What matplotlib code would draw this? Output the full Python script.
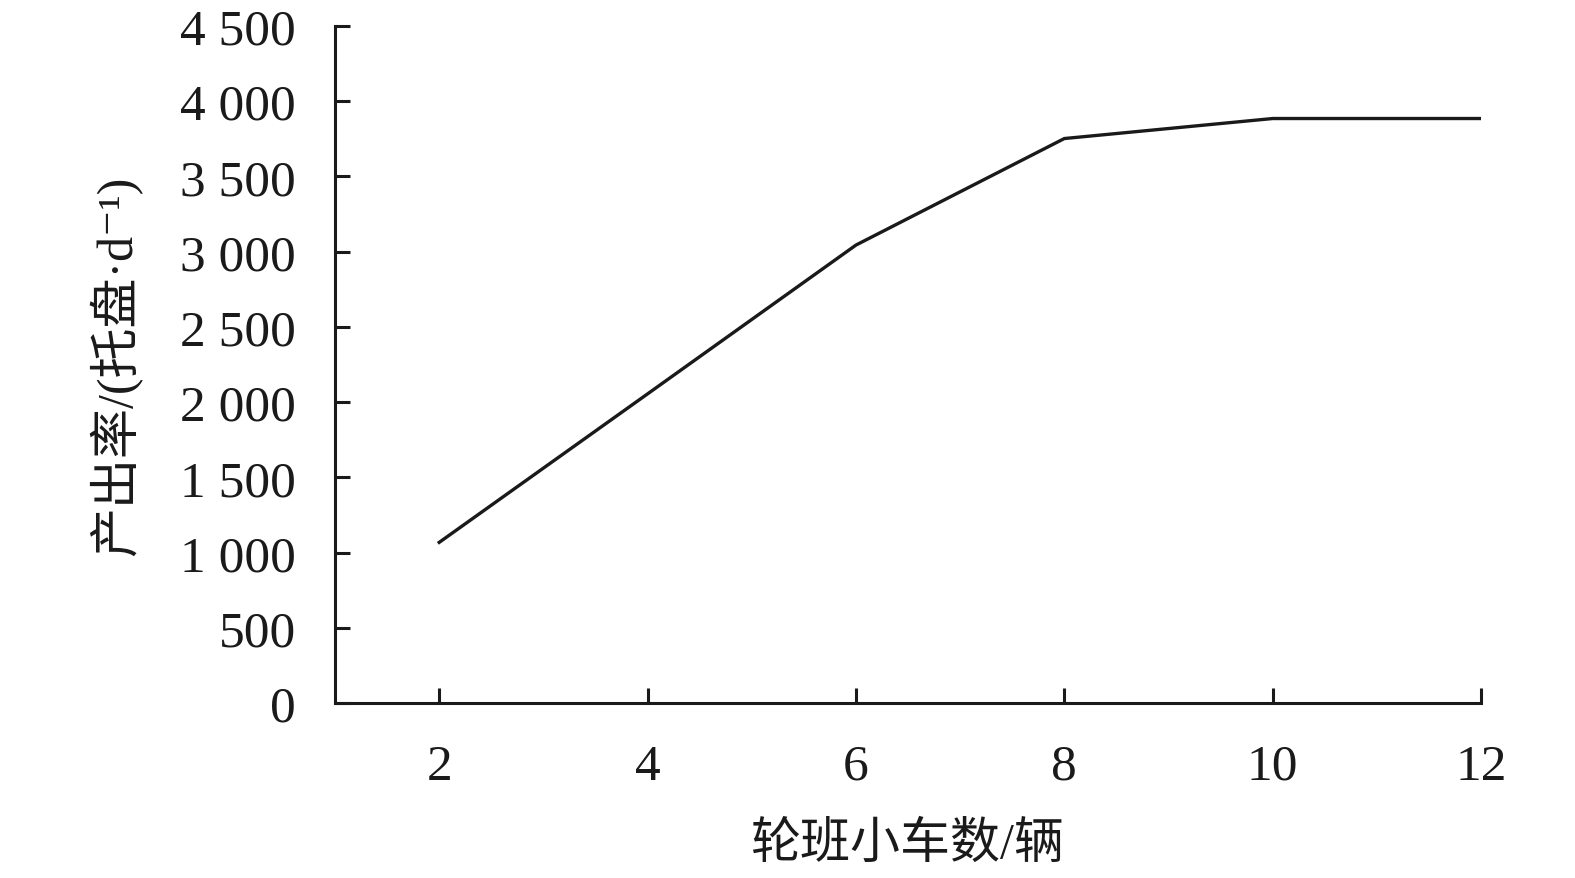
import matplotlib
matplotlib.use("Agg")
import matplotlib.pyplot as plt

# data
cars = [2, 4, 6, 8, 10, 12]
output_rate = [1068, 2055, 3044, 3752, 3885, 3885]
x_ticks = [2, 4, 6, 8, 10, 12]
y_ticks = [0, 500, 1000, 1500, 2000, 2500, 3000, 3500, 4000, 4500]
y_tick_labels = ["0", "500", "1 000", "1 500", "2 000", "2 500",
                 "3 000", "3 500", "4 000", "4 500"]

plt.rcParams["font.family"] = ["Liberation Serif", "Noto Sans CJK SC", "DejaVu Sans"]

fig = plt.figure(figsize=(15.75, 8.79), dpi=100)
ax = fig.add_axes([0.2127, 0.199, 0.7277, 0.7703])

ax.plot(cars, output_rate, color="#1a1a1a", linewidth=2.4)

ax.set_xlim(1, 12)
ax.set_ylim(0, 4500)
ax.set_xticks(x_ticks)
ax.set_yticks(y_ticks)
ax.set_yticklabels(y_tick_labels)

for side in ["top", "right"]:
    ax.spines[side].set_visible(False)
for side in ["left", "bottom"]:
    ax.spines[side].set_linewidth(2.2)
    ax.spines[side].set_color("#1a1a1a")

ax.tick_params(axis="both", direction="in", length=11, width=2.2,
               color="#1a1a1a", labelsize=37, labelcolor="#1a1a1a")
ax.tick_params(axis="x", pad=29)
ax.tick_params(axis="y", pad=28)

ax.set_xlabel("轮班小车数/辆", fontsize=36, color="#1a1a1a", labelpad=23)
ax.set_ylabel("产出率/(托盘·d⁻¹)", fontsize=36, color="#1a1a1a", labelpad=27)

fig.savefig("out.png", dpi=100)
